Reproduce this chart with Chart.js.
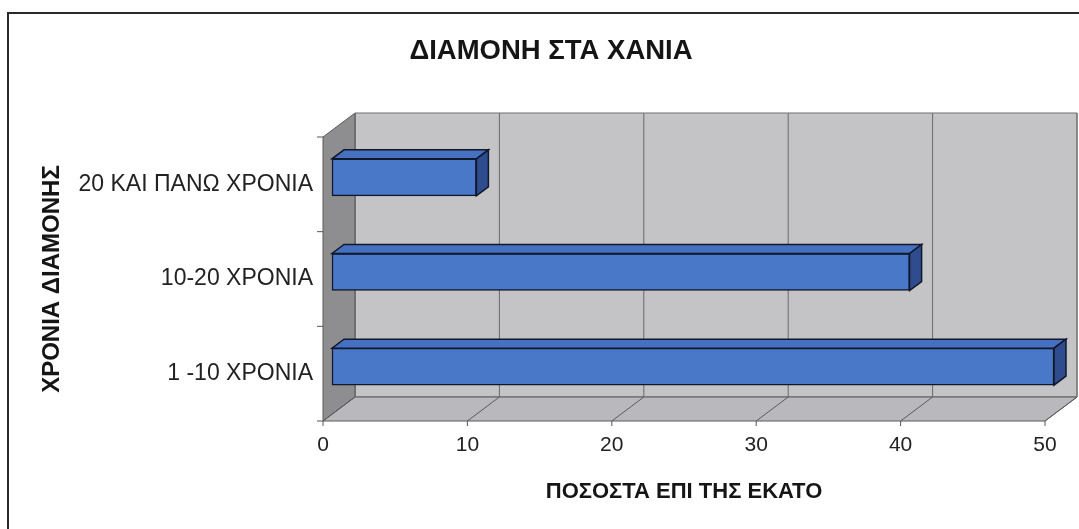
<!DOCTYPE html>
<html>
<head>
<meta charset="utf-8">
<script src="https://cdn.jsdelivr.net/npm/chart.js@4/dist/chart.umd.min.js"></script>
<style>
  html, body { margin: 0; padding: 0; background: #fff; }
  #wrap { width: 1079px; height: 529px; }
</style>
</head>
<body>
<div id="wrap"><canvas id="chart"></canvas></div>
<script>
// data
const categories = ['20 ΚΑΙ ΠΑΝΩ ΧΡΟΝΙΑ', '10-20 ΧΡΟΝΙΑ', '1 -10 ΧΡΟΝΙΑ'];
const percentValues = [10, 40, 50];
const xTicks = [0, 10, 20, 30, 40, 50];
const chartTitle = 'ΔΙΑΜΟΝΗ ΣΤΑ ΧΑΝΙΑ';
const xTitle = 'ΠΟΣΟΣΤΑ ΕΠΙ ΤΗΣ ΕΚΑΤΟ';
const yTitle = 'ΧΡΟΝΙΑ ΔΙΑΜΟΝΗΣ';

// fake 3d depth (Excel style)
const DX = 32, DY = -24;          // wall depth
const BAR_OFF_X = 9, BAR_OFF_Y = -7;  // bar front plane
const BDX = 12, BDY = -9;         // bar depth
const FONT = '"Liberation Sans", Arial, sans-serif';

function poly(ctx, pts, fill, stroke, lw) {
    ctx.beginPath();
    ctx.moveTo(pts[0][0], pts[0][1]);
    for (let i = 1; i < pts.length; i++) ctx.lineTo(pts[i][0], pts[i][1]);
    ctx.closePath();
    if (fill) { ctx.fillStyle = fill; ctx.fill(); }
    if (stroke) { ctx.strokeStyle = stroke; ctx.lineWidth = lw || 1; ctx.stroke(); }
}

function line(ctx, x1, y1, x2, y2, color, lw) {
    ctx.beginPath();
    ctx.moveTo(x1, y1);
    ctx.lineTo(x2, y2);
    ctx.strokeStyle = color;
    ctx.lineWidth = lw || 1;
    ctx.stroke();
}

const box3d = {
    id: 'box3d',
    beforeDraw(chart) {
        const ctx = chart.ctx;
        ctx.save();
        // outer frame
        ctx.beginPath();
        ctx.moveTo(8, 529);
        ctx.lineTo(8, 13);
        ctx.lineTo(1079, 13);
        ctx.strokeStyle = '#2a2a2a';
        ctx.lineWidth = 2;
        ctx.stroke();
        // chart title
        ctx.fillStyle = '#151515';
        ctx.font = 'bold 27.5px ' + FONT;
        ctx.textAlign = 'center';
        ctx.textBaseline = 'middle';
        ctx.fillText(chartTitle, 551, 51);
        ctx.restore();
    },
    beforeDatasetsDraw(chart) {
        const { ctx, chartArea: a, scales: { x } } = chart;
        const L = a.left, R = a.right, T = a.top, B = a.bottom;
        ctx.save();
        // walls
        poly(ctx, [[L + DX, T + DY], [R + DX, T + DY], [R + DX, B + DY], [L + DX, B + DY]], '#c4c4c7', '#6e6e6e');
        poly(ctx, [[L, T], [L + DX, T + DY], [L + DX, B + DY], [L, B]], '#8e8e90', '#5a5a5a');
        poly(ctx, [[L, B], [L + DX, B + DY], [L + DX, B]], '#a4a4a6', null);
        poly(ctx, [[L, B], [R, B], [R + DX, B + DY], [L + DX, B + DY]], '#b9b9bd', '#5a5a5a');
        // gridlines on back wall and floor
        xTicks.forEach(v => {
            const px = x.getPixelForValue(v);
            line(ctx, px + DX, T + DY, px + DX, B + DY, '#6a6a6a', 1);
            line(ctx, px, B, px + DX, B + DY, '#5a5a5a', 1);
            line(ctx, px, B, px, B + 5, '#555', 1);
        });
        // category ticks on the left
        for (let i = 0; i <= categories.length; i++) {
            const py = T + (B - T) * i / categories.length;
            line(ctx, L - 6, py, L, py, '#555', 1);
        }
        ctx.restore();
        // bars sit part way into the box
        ctx.save();
        ctx.translate(BAR_OFF_X, BAR_OFF_Y);
    },
    afterDatasetsDraw(chart) {
        const ctx = chart.ctx;
        const meta = chart.getDatasetMeta(0);
        meta.data.forEach(bar => {
            const p = bar.getProps(['x', 'y', 'base', 'height'], true);
            const top = p.y - p.height / 2, bot = p.y + p.height / 2;
            poly(ctx, [[p.base, top], [p.x, top], [p.x + BDX, top + BDY], [p.base + BDX, top + BDY]], '#4670c0', '#10182a', 1.5);
            poly(ctx, [[p.x, top], [p.x + BDX, top + BDY], [p.x + BDX, bot + BDY], [p.x, bot]], '#2e4c8e', '#10182a', 1.5);
        });
        ctx.restore();
    }
};

new Chart(document.getElementById('chart'), {
    type: 'bar',
    data: {
        labels: categories,
        datasets: [{
            data: percentValues,
            backgroundColor: '#4a78c9',
            borderColor: '#10182a',
            borderWidth: 1.5,
            borderSkipped: false,
            barThickness: 37,
            clip: false
        }]
    },
    options: {
        indexAxis: 'y',
        responsive: true,
        maintainAspectRatio: false,
        animation: false,
        events: [],
        layout: { padding: { top: 137, left: 0, right: 34, bottom: 0 } },
        plugins: {
            legend: { display: false },
            tooltip: { enabled: false }
        },
        scales: {
            x: {
                min: 0,
                max: 50,
                afterBuildTicks(scale) { scale.ticks = xTicks.map(v => ({ value: v })); },
                afterFit(scale) { scale.height = 108; },
                grid: { display: false, drawTicks: false },
                border: { display: false },
                ticks: { padding: 12, color: '#222', font: { family: FONT, size: 21 } },
                title: {
                    display: true,
                    text: xTitle,
                    color: '#151515',
                    font: { family: FONT, size: 22, weight: 'bold' },
                    padding: { top: 0, bottom: 24 }
                }
            },
            y: {
                afterFit(scale) { scale.width = 323; },
                grid: { display: false, drawTicks: false },
                border: { display: false },
                ticks: { padding: 10, color: '#222', font: { family: FONT, size: 23 } },
                title: {
                    display: true,
                    text: yTitle,
                    color: '#151515',
                    font: { family: FONT, size: 24, weight: 'bold' },
                    padding: { top: 38, bottom: 0 }
                }
            }
        }
    },
    plugins: [box3d]
});
</script>
</body>
</html>
